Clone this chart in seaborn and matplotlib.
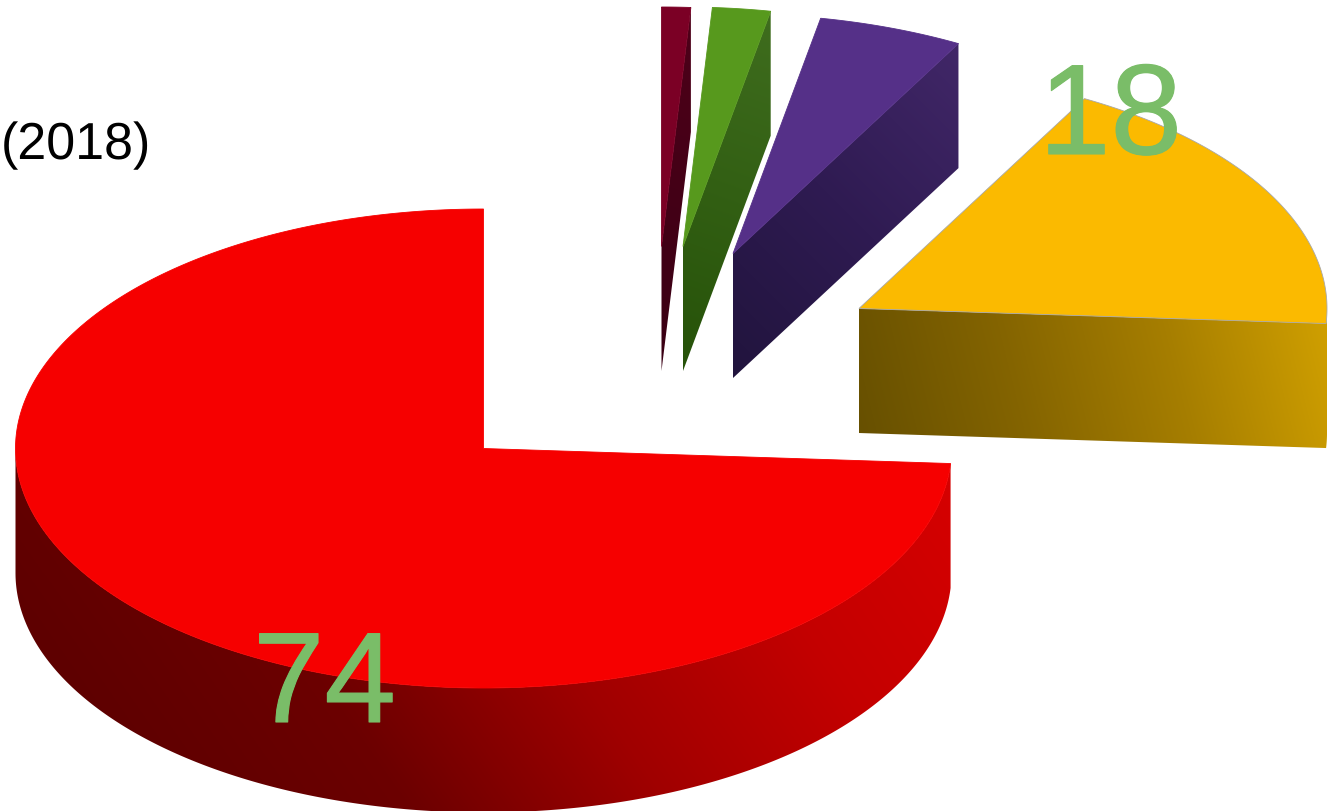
import numpy as np
import matplotlib
matplotlib.use("Agg")
import matplotlib.pyplot as plt
from matplotlib.patches import Polygon
import matplotlib.patheffects as pe
import seaborn as sns

# Share of each group, clockwise from twelve o'clock
categories = ["A", "B", "C", "D", "E"]
values = [1, 2, 5, 18, 74]
labels = ["", "", "", "18", "74"]
year_note = "(2018)"

# Face colours and the blend used on each side wall
top_colors = ["#7B0025", "#57991D", "#553088", "#FBBA00", "#F60000"]
wall_ramps = [
    ["#3A0014", "#4E0019"],
    ["#265209", "#3F6D1E"],
    ["#21143D", "#2F1B52", "#412768"],
    ["#675000", "#846400", "#A67E00", "#D0A000"],
    ["#5E0000", "#6C0000", "#A00000", "#C40000", "#D60000"],
]
wall_dirs = [(0.3, -1), (0.35, -1), (1, -1), (1, -0.25), (1, -0.7)]

# Projection of the disc and how far each wedge is pulled out, in pixels
center = (483.5, 448.5)
rx, ry, depth = 468, 239.5, 124.5
explode = [(178, -202), (199.5, -202), (249.5, -195), (375.5, -140), (0, 0)]
label_green = "#7ABD68"
label_spots = [None, None, None, (1039, 154), (253, 722)]

sns.set_theme(style="white")
plt.rcParams["font.family"] = ["Liberation Sans", "DejaVu Sans"]
plt.rcParams["text.hinting"] = "no_hinting"
plt.rcParams["text.hinting_factor"] = 1

fig = plt.figure(figsize=(13.36, 8.11), dpi=100, facecolor="white")
ax = fig.add_axes([0, 0, 1, 1])
ax.set_axis_off()


def rim(angles, ox, oy):
    a = np.radians(angles)
    return np.column_stack([center[0] + ox + rx * np.sin(a),
                            center[1] + oy - ry * np.cos(a)])


def fill_wall(poly, ramp, direction, zorder):
    # Paint a linear blend over the wall's bounding box and clip it to the wall
    cmap = sns.blend_palette(ramp, as_cmap=True)
    x0, y0 = poly.min(axis=0)
    x1, y1 = poly.max(axis=0)
    xs = np.arange(np.floor(x0), np.ceil(x1) + 1)
    ys = np.arange(np.floor(y0), np.ceil(y1) + 1)
    gx, gy = np.meshgrid(xs, ys)
    d = np.array(direction, dtype=float)
    proj = gx * d[0] + gy * d[1]
    vert = poly @ d
    t = (proj - vert.min()) / (vert.max() - vert.min())
    im = ax.imshow(t, cmap=cmap, vmin=0, vmax=1, aspect="auto", zorder=zorder,
                   extent=(xs[0], xs[-1], ys[-1], ys[0]), interpolation="bilinear")
    clip = Polygon(poly, closed=True, transform=ax.transData,
                   facecolor="none", edgecolor="none")
    ax.add_patch(clip)
    im.set_clip_path(clip)


cuts = np.concatenate([[0], np.cumsum(values)]) / sum(values) * 360
for i, name in enumerate(categories):
    a0, a1 = cuts[i], cuts[i + 1]
    ox, oy = explode[i]
    apex = np.array([[center[0] + ox, center[1] + oy]])
    arc = rim(np.linspace(a0, a1, 400), ox, oy)
    top = np.vstack([apex, arc])

    # Lower silhouette of the wedge: that part of its outline faces the viewer
    if a1 <= 180:
        chain = [apex]
        if a1 > 90:
            chain.append(rim(np.linspace(a1, 90, 60), ox, oy))
        else:
            chain.append(rim([a1], ox, oy))
        chain = np.vstack(chain)
    else:
        chain = rim(np.linspace(max(a0, 90), 270, 400), ox, oy)
    wall = np.vstack([chain, chain[::-1] + [0, depth]])

    fill_wall(wall, wall_ramps[i], wall_dirs[i], zorder=2 + i)
    ax.add_patch(Polygon(top, closed=True, facecolor=top_colors[i],
                         edgecolor="#A8A8A8" if i == 3 else top_colors[i],
                         linewidth=0.6, zorder=2.5 + i))

for text, spot in zip(labels, label_spots):
    if spot is not None:
        t = ax.text(spot[0], spot[1], text, color=label_green, fontsize=92.5,
                    va="baseline", ha="left", zorder=20)
        t.set_path_effects([pe.withStroke(linewidth=0.8, foreground=label_green)])

ax.text(0.5, 159, year_note, color="black", fontsize=37.4,
        va="baseline", ha="left", zorder=20)

ax.set_xlim(0, 1336)
ax.set_ylim(811, 0)
fig.savefig("out.png", dpi=100, facecolor="white")
